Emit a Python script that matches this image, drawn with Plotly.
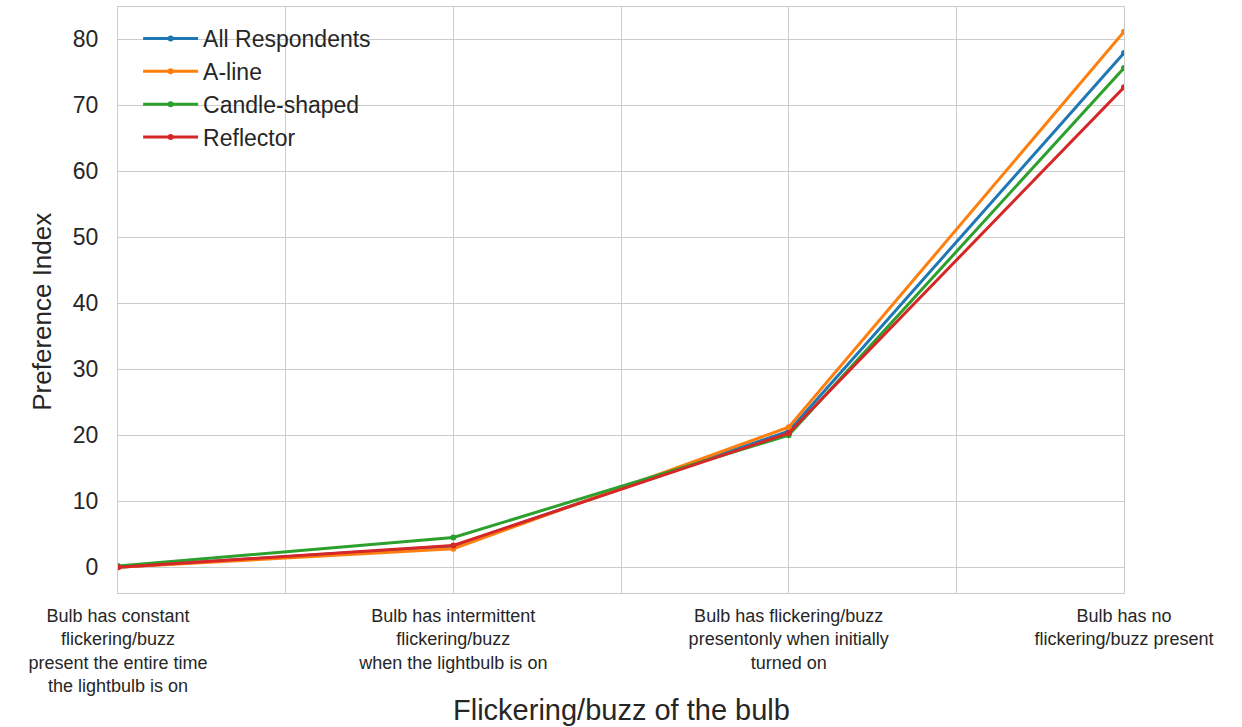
import plotly.graph_objects as go

# Flickering/buzz levels (x categories)
categories = [
    "Bulb has constant<br>flickering/buzz<br>present the entire time<br>the lightbulb is on",
    "Bulb has intermittent<br>flickering/buzz<br>when the lightbulb is on",
    "Bulb has flickering/buzz<br>presentonly when initially<br>turned on",
    "Bulb has no<br>flickering/buzz present",
]

all_respondents = [0.0, 3.2, 20.6, 77.9]
a_line = [0.0, 2.8, 21.2, 81.1]
candle_shaped = [0.2, 4.5, 20.0, 75.6]
reflector = [0.0, 3.3, 20.3, 72.7]

series = [
    ("All Respondents", all_respondents, "#1f77b4"),
    ("A-line", a_line, "#ff7f0e"),
    ("Candle-shaped", candle_shaped, "#2ca02c"),
    ("Reflector", reflector, "#d62728"),
]

x_pos = list(range(len(categories)))

fig = go.Figure()
for name, vals, color in series:
    fig.add_trace(go.Scatter(
        x=x_pos, y=vals, name=name, mode="lines+markers",
        line=dict(color=color, width=3),
        marker=dict(color=color, size=6),
    ))

tick_vals = [i * 0.5 for i in range(7)]
tick_text = [categories[int(v)] if v == int(v) else "" for v in tick_vals]

grid = "#cccccc"
text_color = "#262626"
fig.update_layout(
    width=1242, height=727,
    margin=dict(l=118, r=118, t=7, b=134),
    plot_bgcolor="white", paper_bgcolor="white",
    font=dict(family="Liberation Sans, Arial, sans-serif", color=text_color),
    showlegend=True,
    legend=dict(
        x=0.02, y=0.983, xanchor="left", yanchor="top",
        bgcolor="rgba(0,0,0,0)", font=dict(size=23, color=text_color),
        itemwidth=55, tracegroupgap=0,
    ),
    xaxis=dict(
        range=[0, 3], tickmode="array", tickvals=tick_vals, ticktext=tick_text,
        showgrid=True, gridcolor=grid, gridwidth=1.3, zeroline=False,
        showline=True, linecolor=grid, linewidth=1.3, mirror=True,
        tickfont=dict(size=18, color=text_color), ticks="outside", ticklen=6,
        tickcolor="rgba(0,0,0,0)",
    ),
    yaxis=dict(
        range=[-3.9, 84.85], tickmode="array", tickvals=[0, 10, 20, 30, 40, 50, 60, 70, 80],
        showgrid=True, gridcolor=grid, gridwidth=1.3, zeroline=False,
        showline=True, linecolor=grid, linewidth=1.3, mirror=True,
        tickfont=dict(size=23, color=text_color), ticks="outside", ticklen=14,
        tickcolor="rgba(0,0,0,0)",
    ),
    annotations=[
        dict(
            text="Flickering/buzz of the bulb", xref="paper", yref="paper",
            x=0.5, y=-0.2, xanchor="center", yanchor="middle", showarrow=False,
            font=dict(size=29, color=text_color),
        ),
        dict(
            text="Preference Index", xref="paper", yref="paper",
            x=-0.0755, y=0.48, xanchor="center", yanchor="middle", showarrow=False,
            textangle=-90, font=dict(size=26, color=text_color),
        ),
    ],
)

fig.write_html("out.html")
